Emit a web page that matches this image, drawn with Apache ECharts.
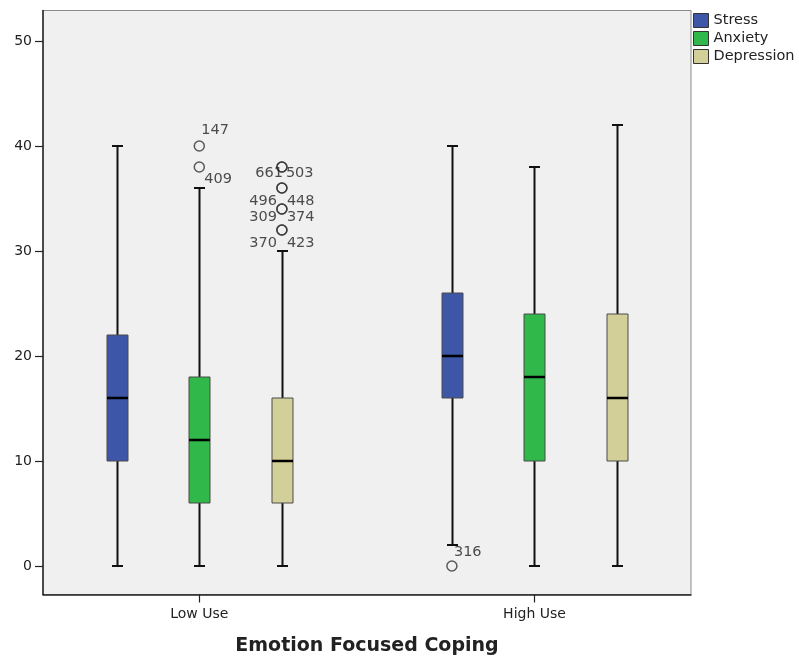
<!DOCTYPE html>
<html>
<head>
<meta charset="utf-8">
<script src="https://cdn.jsdelivr.net/npm/echarts@6/dist/echarts.min.js"></script>
<style>
  html, body { margin: 0; padding: 0; background: #ffffff; }
  #chart { width: 799px; height: 656px; }
</style>
</head>
<body>
<div id="chart"></div>
<script>
// Groups on the x axis and the three scales compared within each group
const categories = ['Low Use', 'High Use'];
const seriesNames = ['Stress', 'Anxiety', 'Depression'];

// Five-number summaries per group: [min, Q1, median, Q3, max]
const stressStats = [[0, 10, 16, 22, 40], [2, 16, 20, 26, 40]];
const anxietyStats = [[0, 6, 12, 18, 36], [0, 10, 18, 24, 38]];
const depressionStats = [[0, 6, 10, 16, 30], [0, 10, 16, 24, 42]];

// Outlying cases: [group, value, case number]
const stressOutliers = [['High Use', 0, '316']];
const anxietyOutliers = [['Low Use', 40, '147'], ['Low Use', 38, '409']];
const depressionOutliers = [
  ['Low Use', 38, '661'], ['Low Use', 38, '503'],
  ['Low Use', 36, '496'], ['Low Use', 36, '448'],
  ['Low Use', 34, '309'], ['Low Use', 34, '374'],
  ['Low Use', 32, '370'], ['Low Use', 32, '423']
];

const yTicks = [0, 10, 20, 30, 40, 50];

// ---- styling / layout ----
const FONT = 'DejaVu Sans';
const TEXT = '#222222';
const colors = ['#3d56a8', '#30b84a', '#d3cf98'];
const slotOffset = [-0.2464, 0, 0.2464];   // box offset from group centre, in group units
const BOX_W = 21;
const CAP_W = 11;

// where each case number sits relative to its circle
const caseLabelPlacement = {
  '147': { align: 'left',  offset: [2, -16] },
  '409': { align: 'left',  offset: [5, 12] },
  '316': { align: 'left',  offset: [2, -14] },
  '661': { align: 'right', offset: [1, 6] },
  '503': { align: 'left',  offset: [4, 6] },
  '496': { align: 'right', offset: [-5, 13] },
  '448': { align: 'left',  offset: [5, 13] },
  '309': { align: 'right', offset: [-5, 8] },
  '374': { align: 'left',  offset: [5, 8] },
  '370': { align: 'right', offset: [-5, 13] },
  '423': { align: 'left',  offset: [5, 13] }
};

const groupPos = name => categories.indexOf(name) + 1;

function renderBox(params, api) {
  const x = api.value(0);
  const lo = api.coord([x, api.value(1)]);
  const q1 = api.coord([x, api.value(2)]);
  const med = api.coord([x, api.value(3)]);
  const q3 = api.coord([x, api.value(4)]);
  const hi = api.coord([x, api.value(5)]);
  const cx = Math.round(lo[0]) + 0.5;
  const hb = BOX_W / 2, hc = CAP_W / 2;
  const whisker = { stroke: '#111111', lineWidth: 2 };
  return {
    type: 'group',
    children: [
      { type: 'line', shape: { x1: cx, y1: hi[1], x2: cx, y2: q3[1] }, style: whisker },
      { type: 'line', shape: { x1: cx, y1: q1[1], x2: cx, y2: lo[1] }, style: whisker },
      { type: 'line', shape: { x1: cx - hc, y1: hi[1], x2: cx + hc, y2: hi[1] }, style: whisker },
      { type: 'line', shape: { x1: cx - hc, y1: lo[1], x2: cx + hc, y2: lo[1] }, style: whisker },
      {
        type: 'rect',
        shape: { x: cx - hb, y: q3[1], width: BOX_W, height: q1[1] - q3[1] },
        style: { fill: api.visual('color'), stroke: '#4a4a4a', lineWidth: 1 }
      },
      {
        type: 'line',
        shape: { x1: cx - hb, y1: med[1], x2: cx + hb, y2: med[1] },
        style: { stroke: '#000000', lineWidth: 2.5 }
      }
    ]
  };
}

const statsBySeries = [stressStats, anxietyStats, depressionStats];
const outliersBySeries = [stressOutliers, anxietyOutliers, depressionOutliers];

const boxSeries = seriesNames.map((name, s) => ({
  name: name,
  type: 'custom',
  renderItem: renderBox,
  itemStyle: { color: colors[s] },
  encode: { x: 0, y: [1, 2, 3, 4, 5] },
  data: statsBySeries[s].map((st, g) => [g + 1 + slotOffset[s]].concat(st)),
  silent: true,
  z: 2
}));

const outlierSeries = seriesNames.map((name, s) => ({
  name: name + ' outliers',
  type: 'scatter',
  symbol: 'circle',
  symbolSize: 10,
  silent: true,
  z: 3,
  itemStyle: { color: 'rgba(0,0,0,0)', borderColor: '#333333', borderWidth: 1.5 },
  data: outliersBySeries[s].map(o => {
    const place = caseLabelPlacement[o[2]];
    return {
      value: [groupPos(o[0]) + slotOffset[s], o[1], o[2]],
      label: {
        show: true,
        position: 'inside',
        align: place.align,
        verticalAlign: 'middle',
        offset: place.offset,
        formatter: p => p.value[2],
        fontFamily: FONT,
        fontSize: 14.5,
        color: TEXT
      }
    };
  })
}));

const chart = echarts.init(document.getElementById('chart'), null, { renderer: 'canvas' });

chart.setOption({
  animation: false,
  backgroundColor: '#ffffff',
  grid: {
    left: 43, right: 108, top: 10.5, bottom: 61.5,
    outerBoundsMode: 'none',
    show: true,
    backgroundColor: '#f0f0f0',
    borderColor: '#8a8a8a',
    borderWidth: 1
  },
  legend: {
    data: seriesNames,
    orient: 'vertical',
    left: 693,
    top: 13,
    padding: 0,
    itemWidth: 15,
    itemHeight: 14,
    itemGap: 3,
    icon: 'rect',
    selectedMode: false,
    itemStyle: { borderColor: '#333333', borderWidth: 1 },
    textStyle: { fontFamily: FONT, fontSize: 14.5, color: TEXT }
  },
  xAxis: {
    type: 'value',
    min: 0.5337,
    max: 2.4669,
    axisLine: { onZero: false, lineStyle: { color: TEXT, width: 1.5 } },
    axisTick: { customValues: [1, 2], length: 8, lineStyle: { color: TEXT, width: 1.2 } },
    axisLabel: {
      customValues: [1, 2],
      formatter: v => categories[Math.round(v) - 1],
      margin: 13,
      fontFamily: FONT,
      fontSize: 14,
      color: TEXT
    },
    splitLine: { show: false },
    name: 'Emotion Focused Coping',
    nameLocation: 'middle',
    nameGap: 42,
    nameTextStyle: { fontFamily: FONT, fontSize: 19, fontWeight: 'bold', color: TEXT }
  },
  yAxis: {
    type: 'value',
    min: -2.714,
    max: 52.905,
    axisLine: { show: true, onZero: false, lineStyle: { color: TEXT, width: 1.5 } },
    axisTick: { show: true, customValues: yTicks, length: 8, lineStyle: { color: TEXT, width: 1.2 } },
    axisLabel: {
      customValues: yTicks,
      margin: 11,
      fontFamily: FONT,
      fontSize: 14,
      color: TEXT
    },
    splitLine: { show: false }
  },
  series: boxSeries.concat(outlierSeries)
});
</script>
</body>
</html>
